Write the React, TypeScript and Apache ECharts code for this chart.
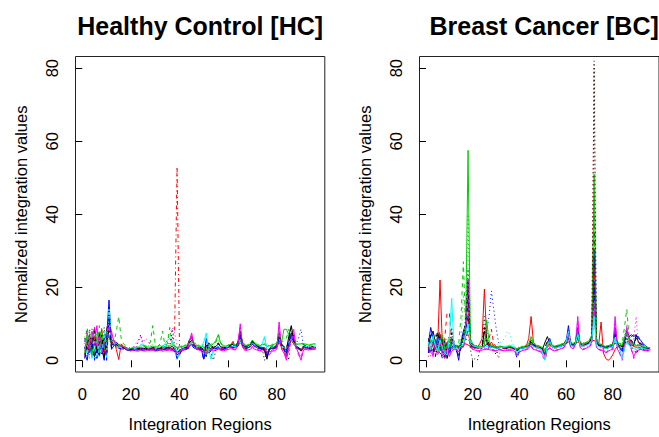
import React, { useEffect, useRef } from "react";
import * as echarts from "echarts";

const regions = Array.from({ length: 96 }, (_, i) => i + 1);
const xTicks = [0, 20, 40, 60, 80];
const yTicks = [0, 20, 40, 60, 80];
const panelTitles = ["Healthy Control [HC]", "Breast Cancer [BC]"];
const xLabel = "Integration Regions";
const yLabel = "Normalized integration values";

// ---------- Healthy Control ----------
const hc1 = [
  3.2, 5.5, 2.1, 6.8, 1.0, 4.2, 7.5, 2.8, 0.5, 8.2, 12.0, 5.0,
  4.6, 4.2, 3.8, 4.1, 3.6, 3.3, 3.0, 2.8, 3.1, 3.2, 3.0, 3.3,
  3.1, 3.4, 3.2, 3.0, 3.3, 3.5, 3.2, 3.1, 3.4, 3.6, 3.3, 3.5,
  3.8, 3.2, 1.5, 2.0, 3.0, 3.4, 3.6, 5.5, 6.5, 4.4, 3.6, 3.5,
  3.4, 2.5, 1.0, 4.8, 4.0, 3.6, 3.8, 4.5, 3.7, 3.5, 3.4, 3.9,
  4.2, 4.6, 3.8, 5.0, 8.0, 4.5, 3.6, 3.8, 4.2, 5.5, 4.4, 3.8,
  3.5, 3.6, 2.5, 0.3, 3.2, 3.8, 3.6, 4.0, 7.5, 4.2, 3.5, 2.8,
  6.5, 9.5, 6.0, 4.0, 3.2, 2.5, 3.8, 3.9, 3.6, 3.5, 3.7, 3.6,
];
const hc2 = [
  1.5, 4.0, 7.0, 3.0, 6.5, 2.0, 5.0, 8.5, 3.5, 2.0, 13.0, 4.5,
  5.5, 3.0, 0.2, 4.5, 3.8, 3.5, 3.2, 3.0, 2.8, 3.0, 3.2, 3.1,
  3.0, 2.9, 3.1, 3.3, 3.0, 2.8, 3.0, 3.2, 3.1, 3.0, 3.3, 3.4,
  3.2, 3.6, 2.2, 3.0, 2.8, 3.1, 3.3, 4.0, 4.5, 3.8, 3.3, 3.2,
  3.1, 3.0, 2.5, 3.4, 3.2, 3.0, 3.3, 3.5, 3.2, 3.0, 3.1, 3.6,
  4.0, 5.2, 3.6, 3.8, 5.5, 3.6, 3.2, 3.4, 3.6, 4.5, 3.8, 3.4,
  3.2, 3.0, 3.4, 2.2, 2.8, 3.3, 3.2, 3.4, 5.0, 3.6, 2.8, 1.0,
  4.0, 6.0, 4.5, 3.5, 3.0, 2.8, 3.5, 3.4, 3.2, 3.3, 3.5, 3.4,
];
const hc3 = [
  5.0, 9.0, 3.5, 6.0, 8.0, 2.5, 9.5, 4.0, 6.5, 3.0, 7.0, 4.0,
  5.0, 8.0, 12.0, 6.0, 4.5, 3.8, 3.4, 3.2, 3.3, 3.5, 3.4, 3.6,
  3.5, 4.0, 3.6, 5.0, 9.5, 4.5, 3.8, 4.5, 8.0, 4.2, 4.5, 9.0,
  4.5, 4.0, 3.2, 3.4, 3.6, 3.8, 4.0, 4.2, 5.0, 4.6, 4.0, 3.8,
  3.6, 3.5, 3.0, 4.0, 4.5, 4.2, 5.0, 7.0, 4.8, 4.0, 3.8, 4.2,
  4.4, 4.0, 4.2, 4.6, 6.0, 4.8, 4.2, 4.0, 4.4, 5.0, 4.5, 4.2,
  4.0, 4.2, 4.5, 3.6, 3.8, 4.0, 4.2, 4.4, 6.0, 5.0, 5.5, 6.0,
  8.5, 7.0, 5.0, 4.5, 4.2, 4.6, 4.4, 4.2, 4.0, 4.1, 4.3, 4.2,
];
const hc4 = [
  2.0, 0.0, 4.5, 1.0, 3.0, 0.5, 2.5, 5.0, 0.0, 6.0, 16.5, 3.0,
  4.0, 5.0, 4.2, 3.6, 3.4, 3.0, 2.8, 2.6, 2.9, 3.0, 2.8, 3.0,
  2.9, 3.0, 2.8, 3.1, 3.0, 2.7, 2.9, 3.0, 2.8, 3.2, 3.0, 3.1,
  3.0, 2.6, 0.8, 1.5, 2.8, 3.0, 3.2, 3.6, 4.5, 3.5, 3.0, 3.1,
  3.0, 0.3, 6.0, 2.5, 3.0, 3.2, 3.4, 3.6, 3.0, 3.1, 3.3, 3.5,
  3.8, 3.6, 3.4, 4.2, 7.0, 4.0, 3.3, 3.5, 3.8, 4.8, 4.0, 3.6,
  3.4, 3.2, 3.0, 1.5, 3.0, 3.4, 3.5, 3.8, 6.5, 4.5, 3.2, 2.0,
  5.0, 7.5, 5.5, 3.8, 3.4, 3.0, 3.5, 3.6, 3.4, 3.3, 3.4, 3.3,
];
const hc5 = [
  4.0, 2.0, 5.5, 0.5, 4.5, 6.5, 1.0, 3.5, 7.0, 0.5, 14.0, 5.5,
  4.8, 4.0, 3.8, 3.5, 3.6, 3.2, 3.0, 3.1, 3.2, 3.3, 3.5, 4.2,
  4.5, 3.8, 3.5, 3.4, 3.6, 3.3, 3.4, 3.5, 3.8, 4.5, 5.5, 6.0,
  5.5, 3.5, 0.2, 2.0, 3.2, 3.4, 3.5, 3.8, 4.2, 3.6, 3.4, 3.5,
  3.8, 5.0, 7.5, 3.0, 0.3, 3.2, 3.6, 3.8, 3.4, 3.5, 3.6, 3.8,
  4.0, 3.8, 3.6, 4.0, 5.0, 3.8, 3.6, 3.7, 4.0, 4.5, 4.0, 3.6,
  3.8, 4.5, 6.5, 3.0, 3.2, 3.6, 3.8, 4.0, 5.5, 4.0, 3.4, 3.2,
  4.5, 5.5, 4.5, 3.8, 3.5, 3.2, 3.6, 3.8, 3.6, 3.5, 3.8, 3.6,
];
const hc6 = [
  3.0, 6.0, 2.0, 8.0, 4.0, 9.5, 3.0, 6.0, 2.5, 4.0, 10.0, 8.0,
  5.0, 4.5, 4.0, 3.8, 3.4, 3.0, 2.7, 2.6, 2.8, 2.6, 2.5, 2.7,
  2.6, 2.5, 2.8, 2.6, 2.7, 2.5, 2.6, 2.8, 2.5, 2.6, 2.7, 2.8,
  2.6, 2.5, 2.0, 2.4, 2.6, 2.8, 3.0, 5.0, 7.5, 4.0, 3.0, 2.8,
  2.6, 2.0, 1.5, 2.5, 2.8, 2.6, 2.8, 3.0, 2.7, 2.6, 2.8, 3.0,
  3.2, 3.0, 2.8, 4.0, 10.0, 3.5, 2.6, 2.8, 3.0, 3.5, 3.0, 2.8,
  2.6, 2.5, 2.8, 2.0, 1.5, 2.5, 2.6, 3.0, 10.5, 3.0, 2.0, 0.0,
  3.5, 6.0, 8.5, 3.5, 2.0, 0.0, 2.8, 3.0, 2.8, 2.9, 3.0, 3.0,
];
const hc7 = [
  6.0, 3.0, 8.5, 2.0, 5.5, 1.0, 7.0, 4.5, 9.0, 2.0, 11.0, 6.0,
  4.2, 3.8, 4.5, 3.6, 3.2, 3.4, 3.0, 2.9, 3.2, 3.4, 5.0, 7.0,
  4.0, 3.5, 3.2, 3.4, 3.6, 3.2, 3.3, 3.5, 3.2, 3.4, 3.6, 3.8,
  8.5, 4.0, 3.0, 3.2, 3.4, 3.5, 3.6, 4.5, 6.0, 4.2, 3.6, 3.4,
  3.2, 3.0, 3.5, 3.8, 2.0, 0.0, 3.0, 3.6, 3.4, 3.3, 3.5, 3.8,
  4.0, 4.2, 3.8, 4.4, 6.5, 4.2, 3.6, 3.8, 4.0, 5.0, 4.2, 3.7,
  3.5, 3.4, 0.0, 2.5, 3.2, 3.6, 3.5, 3.8, 6.0, 4.2, 3.6, 3.0,
  0.0, 8.0, 6.5, 4.0, 3.5, 3.0, 3.6, 3.7, 3.5, 3.4, 3.6, 3.5,
];
const hc8 = [
  2.5, 5.0, 1.5, 4.0, 7.5, 3.0, 1.0, 6.0, 2.0, 5.5, 9.0, 4.0,
  4.5, 3.6, 3.4, 3.2, 3.0, 3.1, 2.9, 3.0, 3.1, 3.2, 3.0, 3.1,
  3.2, 3.0, 3.1, 3.3, 3.2, 3.1, 3.0, 3.2, 3.4, 3.5, 4.0, 5.0,
  6.0, 8.0, 53.0, 4.0, 3.2, 3.3, 3.5, 3.8, 4.5, 3.6, 3.4, 3.3,
  3.2, 3.1, 3.0, 3.3, 3.4, 3.2, 3.4, 3.6, 3.3, 3.2, 3.4, 3.6,
  3.8, 4.0, 3.6, 3.8, 5.0, 3.8, 3.4, 3.5, 3.8, 4.2, 3.8, 3.5,
  3.3, 3.2, 3.5, 3.0, 3.2, 3.4, 3.3, 3.6, 5.0, 3.8, 3.2, 2.8,
  4.5, 5.5, 4.5, 3.6, 3.3, 3.0, 3.4, 3.5, 3.3, 3.2, 3.4, 3.3,
];
const hc9 = [
  4.5, 7.0, 3.0, 9.0, 2.5, 5.0, 8.0, 3.5, 6.0, 1.5, 8.5, 7.0,
  5.5, 4.2, 3.8, 3.5, 3.2, 3.0, 2.8, 3.0, 3.5, 4.5, 5.5, 6.5,
  5.0, 6.0, 5.5, 4.0, 3.5, 3.2, 3.4, 3.6, 3.8, 4.0, 5.5, 7.0,
  9.0, 7.5, 4.0, 3.5, 3.4, 3.6, 3.8, 5.0, 7.0, 4.2, 3.5, 3.4,
  3.3, 3.2, 2.0, 3.4, 3.3, 3.2, 3.4, 3.6, 3.3, 3.2, 3.3, 3.5,
  3.6, 4.0, 3.4, 5.0, 9.0, 4.0, 3.2, 3.4, 3.6, 4.2, 3.6, 3.3,
  3.0, 2.8, 3.2, 2.5, 2.0, 3.0, 3.2, 3.5, 8.0, 3.5, 2.5, 1.0,
  3.0, 5.0, 7.5, 3.0, 2.0, 1.0, 3.0, 3.2, 3.0, 3.1, 3.2, 3.1,
];
const hc10 = [
  3.5, 1.0, 6.0, 2.5, 0.5, 4.0, 6.0, 1.5, 5.0, 3.0, 15.0, 5.0,
  4.4, 3.8, 3.6, 3.4, 3.3, 3.2, 3.0, 3.1, 3.0, 3.2, 3.1, 3.3,
  3.2, 3.1, 3.3, 3.2, 3.1, 3.0, 3.2, 3.3, 3.1, 3.4, 3.2, 3.3,
  3.5, 3.2, 1.0, 2.8, 3.2, 3.4, 3.5, 4.0, 5.0, 3.8, 3.4, 3.3,
  3.2, 1.5, 5.0, 3.5, 3.2, 3.3, 3.5, 3.6, 3.4, 3.3, 3.4, 3.7,
  3.9, 3.8, 3.6, 4.2, 6.0, 4.0, 3.5, 3.6, 3.8, 4.5, 3.9, 3.6,
  3.4, 3.3, 3.6, 2.8, 3.0, 3.5, 3.4, 3.8, 5.5, 4.0, 3.4, 3.0,
  5.0, 6.5, 5.0, 4.5, 6.0, 8.5, 4.0, 3.6, 3.5, 3.4, 3.6, 3.5,
];
const hc11 = [
  2.0, 7.5, 4.5, 1.5, 9.0, 5.0, 2.0, 7.0, 4.5, 8.0, 6.0, 5.5,
  4.8, 4.5, 4.2, 3.9, 3.6, 3.4, 3.2, 3.3, 3.5, 3.4, 3.6, 3.5,
  3.6, 3.8, 3.5, 3.7, 3.9, 3.6, 3.8, 4.0, 3.7, 3.8, 3.9, 4.0,
  4.2, 4.0, 3.5, 3.6, 3.8, 4.0, 4.2, 4.5, 5.5, 4.8, 4.2, 4.0,
  3.8, 3.6, 1.5, 3.5, 4.0, 4.5, 5.5, 7.0, 4.5, 4.0, 3.8, 4.0,
  4.2, 4.4, 4.2, 4.5, 5.5, 4.5, 4.0, 4.2, 4.4, 5.5, 4.8, 4.3,
  4.0, 4.2, 4.4, 3.8, 4.0, 4.2, 4.4, 4.6, 7.0, 5.0, 8.5, 8.5,
  7.0, 6.0, 5.0, 4.5, 4.4, 4.5, 4.6, 4.4, 4.2, 4.3, 4.5, 4.4,
];
const hc12 = [
  5.5, 3.5, 0.5, 7.0, 3.5, 1.0, 5.5, 2.5, 8.0, 4.0, 10.0, 6.5,
  4.6, 4.0, 3.7, 3.5, 3.3, 3.1, 3.0, 2.9, 3.1, 3.3, 3.8, 4.5,
  4.0, 3.6, 3.4, 3.5, 3.3, 3.4, 3.6, 3.5, 3.7, 3.6, 3.8, 4.0,
  4.2, 3.6, 2.5, 2.8, 3.4, 3.6, 3.7, 4.0, 5.0, 4.0, 3.6, 3.5,
  3.6, 4.5, 6.5, 2.0, 0.5, 3.0, 3.5, 3.7, 3.4, 3.5, 3.6, 3.8,
  4.0, 3.9, 3.7, 4.2, 6.0, 4.0, 3.7, 3.8, 4.0, 4.6, 4.1, 3.7,
  3.6, 4.2, 6.0, 3.2, 3.4, 3.6, 3.7, 4.0, 6.0, 4.2, 3.5, 3.2,
  4.8, 6.0, 5.0, 4.0, 3.6, 3.4, 3.7, 3.8, 3.6, 3.5, 3.7, 3.6,
];
const hc13 = [
  0.5, 4.5, 6.0, 3.0, 9.0, 2.0, 4.5, 7.0, 1.0, 5.0, 8.0, 3.5,
  4.0, 4.4, 3.6, 3.9, 3.4, 3.1, 2.9, 3.0, 3.3, 3.0, 3.2, 3.4,
  3.0, 3.3, 3.0, 3.2, 3.5, 3.3, 3.1, 3.3, 3.6, 3.2, 3.5, 3.3,
  3.6, 3.0, 2.0, 2.6, 3.2, 3.5, 3.4, 4.8, 5.5, 4.0, 3.5, 3.6,
  3.5, 2.8, 4.0, 4.2, 3.6, 3.4, 3.9, 4.8, 3.5, 3.6, 3.5, 4.0,
  4.1, 4.4, 4.0, 4.6, 7.0, 4.2, 3.8, 3.9, 4.3, 5.2, 4.3, 3.9,
  3.6, 3.8, 3.0, 1.0, 3.0, 3.9, 3.7, 4.1, 7.0, 4.4, 3.8, 3.2,
  6.0, 9.0, 5.5, 4.2, 3.4, 2.8, 3.9, 4.0, 3.7, 3.6, 3.8, 3.7,
];
const hc14 = [
  6.5, 3.0, 8.0, 5.0, 2.0, 7.5, 4.0, 9.0, 3.0, 6.0, 5.0, 6.0,
  5.2, 4.8, 4.4, 4.0, 3.8, 3.6, 3.4, 3.5, 3.7, 3.8, 3.6, 3.9,
  3.8, 4.2, 3.9, 4.0, 4.4, 3.9, 4.0, 4.3, 4.1, 4.0, 4.2, 4.4,
  4.6, 4.2, 3.6, 3.8, 4.0, 4.2, 4.4, 4.6, 5.2, 4.9, 4.4, 4.2,
  4.0, 3.8, 3.2, 3.8, 4.2, 4.6, 5.0, 5.5, 4.6, 4.2, 4.0, 4.3,
  4.5, 4.6, 4.4, 4.8, 5.8, 4.9, 4.4, 4.3, 4.6, 5.2, 4.7, 4.4,
  4.2, 4.4, 4.7, 4.0, 4.1, 4.4, 4.5, 4.7, 6.5, 5.2, 6.0, 6.5,
  7.5, 6.5, 5.2, 4.7, 4.6, 4.8, 4.6, 4.5, 4.3, 4.4, 4.6, 4.5,
];
const hc15 = [
  1.0, 3.5, 2.0, 5.5, 0.0, 3.0, 1.5, 4.0, 6.0, 0.0, 12.0, 4.5,
  4.2, 3.6, 3.3, 3.1, 3.0, 2.9, 2.7, 2.7, 2.8, 2.9, 2.7, 2.9,
  2.8, 2.9, 2.7, 3.0, 2.9, 2.6, 2.8, 2.9, 2.7, 3.0, 2.9, 3.0,
  2.9, 2.4, 0.5, 1.8, 2.7, 2.9, 3.1, 3.4, 4.2, 3.3, 2.9, 3.0,
  2.9, 0.0, 4.5, 2.0, 2.6, 3.0, 3.2, 3.4, 2.9, 3.0, 3.2, 3.4,
  3.6, 3.5, 3.3, 4.0, 6.5, 3.8, 3.2, 3.4, 3.6, 4.4, 3.8, 3.4,
  3.2, 3.0, 2.8, 1.0, 2.6, 3.2, 3.3, 3.6, 6.0, 4.2, 3.0, 1.5,
  4.5, 7.0, 5.0, 3.6, 3.2, 2.6, 3.3, 3.4, 3.2, 3.1, 3.2, 3.1,
];
const hc16 = [
  5.0, 8.0, 3.5, 6.0, 9.0, 4.0, 7.0, 2.0, 5.0, 7.5, 9.0, 7.0,
  5.5, 4.8, 4.2, 3.9, 3.5, 3.2, 2.9, 2.8, 3.0, 2.9, 2.8, 3.0,
  2.9, 2.8, 3.0, 2.9, 3.0, 2.8, 2.9, 3.0, 2.8, 2.9, 3.0, 3.1,
  2.9, 2.8, 2.4, 2.7, 2.9, 3.0, 3.2, 4.5, 6.5, 3.8, 3.1, 3.0,
  2.9, 2.4, 2.0, 2.8, 3.0, 2.9, 3.0, 3.2, 2.9, 2.8, 3.0, 3.2,
  3.4, 3.2, 3.0, 4.2, 9.0, 3.6, 2.9, 3.0, 3.2, 3.8, 3.2, 3.0,
  2.8, 2.7, 3.0, 2.4, 2.0, 2.8, 2.9, 3.2, 9.0, 3.2, 2.2, 0.5,
  3.2, 5.5, 7.0, 3.2, 1.5, 0.5, 3.0, 3.2, 3.0, 3.1, 3.2, 3.2,
];
const hcValues = [hc1, hc2, hc3, hc4, hc5, hc6, hc7, hc8, hc9, hc10, hc11, hc12, hc13, hc14, hc15, hc16];
const hcColors = ["#000000", "#FF0000", "#00CD00", "#0000FF", "#00FFFF", "#FF00FF",
  "#000000", "#FF0000", "#FF00FF", "#0000FF", "#00CD00", "#00FFFF",
  "#000000", "#00CD00", "#0000FF", "#FF00FF"];
const hcDash = ["solid", "solid", "dashed", "solid", "solid", "solid",
  "dotted", "dotdash", "dotted", "dotted", "solid", "dashed",
  "dashed", "dotted", "dashed", "dashed"];

// ---------- Breast Cancer ----------
const bc1 = [
  4.0, 6.5, 8.0, 5.0, 3.0, 7.0, 2.0, 5.5, 0.5, 3.0, 6.0, 4.5,
  3.8, 3.5, 4.0, 7.0, 9.0, 12.0, 5.0, 4.0, 3.8, 3.5, 3.6, 3.4,
  8.0, 5.0, 4.0, 3.8, 3.6, 3.5, 3.4, 3.6, 3.5, 3.3, 3.4, 3.6,
  3.5, 3.3, 3.0, 3.2, 3.4, 3.5, 3.6, 3.8, 5.0, 4.2, 3.8, 3.6,
  3.4, 3.2, 5.0, 6.5, 4.5, 3.8, 3.6, 3.8, 4.0, 4.2, 4.5, 5.5,
  7.5, 4.8, 4.2, 4.5, 6.0, 4.5, 4.0, 4.2, 4.4, 4.8, 5.5, 20.0,
  5.0, 4.2, 4.0, 3.8, 3.6, 3.8, 4.0, 4.2, 6.0, 4.5, 4.0, 3.8,
  5.5, 8.0, 6.0, 5.0, 4.0, 7.0, 5.0, 4.0, 3.5, 3.2, 3.0, 3.0,
];
const bc2 = [
  2.0, 3.5, 5.0, 3.0, 4.5, 22.0, 4.0, 3.0, 5.0, 2.5, 3.5, 4.0,
  3.6, 3.2, 3.5, 4.0, 4.5, 4.2, 3.8, 3.5, 3.4, 3.6, 4.5, 6.0,
  19.5, 6.0, 4.0, 5.0, 3.8, 3.5, 3.6, 3.8, 3.5, 3.4, 3.6, 3.5,
  3.4, 3.2, 3.0, 3.4, 3.6, 3.8, 4.0, 6.0, 12.0, 5.0, 4.0, 3.8,
  3.6, 3.0, 2.5, 3.8, 4.0, 3.8, 3.6, 3.8, 4.0, 4.2, 4.4, 4.6,
  5.0, 4.6, 4.4, 4.6, 5.0, 4.8, 4.4, 4.6, 4.8, 5.0, 5.2, 5.5,
  4.8, 4.5, 10.5, 2.0, 0.5, 0.0, 0.5, 1.5, 3.0, 3.8, 4.0, 4.2,
  4.5, 5.0, 4.6, 4.2, 3.8, 3.6, 3.5, 3.4, 3.2, 3.0, 3.0, 3.0,
];
const bc3 = [
  5.0, 3.0, 6.0, 4.5, 2.0, 5.0, 7.0, 3.0, 4.0, 5.5, 3.0, 4.0,
  3.8, 4.0, 4.5, 6.0, 10.0, 57.5, 6.0, 4.5, 4.0, 3.8, 3.6, 3.5,
  4.0, 11.0, 5.0, 4.0, 3.8, 3.6, 3.7, 3.8, 3.6, 3.5, 3.7, 3.8,
  3.6, 3.4, 3.2, 3.5, 3.7, 3.8, 4.0, 4.5, 6.5, 4.8, 4.2, 4.0,
  3.8, 3.5, 2.5, 4.5, 5.5, 4.2, 3.8, 4.0, 4.2, 4.4, 4.6, 5.0,
  6.0, 5.0, 4.6, 5.0, 7.5, 5.0, 4.6, 4.8, 5.0, 5.5, 7.0, 51.0,
  6.0, 4.5, 4.2, 4.0, 3.8, 4.0, 4.2, 4.4, 5.5, 4.8, 4.5, 4.0,
  6.0, 7.5, 5.5, 4.8, 4.5, 4.0, 4.2, 4.0, 3.8, 3.6, 3.5, 3.5,
];
const bc4 = [
  3.0, 5.5, 4.0, 7.0, 3.5, 2.0, 6.0, 4.0, 3.0, 6.5, 4.5, 3.5,
  4.0, 4.5, 12.0, 27.0, 8.0, 6.0, 4.5, 4.2, 4.0, 3.8, 3.6, 3.8,
  4.0, 6.0, 4.5, 3.8, 3.6, 3.5, 3.6, 3.7, 3.5, 3.4, 3.6, 3.7,
  3.5, 3.3, 3.1, 3.4, 3.6, 3.8, 3.9, 4.2, 5.5, 4.5, 4.0, 3.8,
  3.6, 3.4, 3.0, 4.0, 5.0, 4.0, 3.8, 3.9, 4.0, 4.2, 4.4, 5.0,
  6.5, 4.8, 4.4, 4.8, 6.5, 4.8, 4.4, 4.6, 4.8, 5.2, 6.5, 35.0,
  5.0, 4.4, 4.2, 4.0, 3.8, 4.0, 4.2, 4.4, 6.0, 5.0, 4.5, 4.5,
  9.0, 14.0, 6.0, 4.5, 4.2, 4.0, 4.0, 3.8, 3.6, 3.5, 3.4, 3.4,
];
const bc5 = [
  3.5, 2.0, 6.0, 1.0, 4.0, 3.0, 5.0, 0.5, 2.0, 4.5, 9.0, 3.0,
  2.5, 1.0, 4.0, 6.0, 12.0, 25.0, 3.0, 0.0, 0.5, 0.0, 2.5, 3.5,
  12.0, 5.0, 3.0, 3.5, 3.0, 1.5, 3.0, 3.2, 3.4, 3.0, 3.2, 3.4,
  3.2, 3.0, 2.0, 3.0, 3.2, 3.4, 3.5, 4.0, 5.0, 3.8, 3.5, 3.3,
  3.2, 2.0, 0.5, 4.0, 4.5, 3.5, 3.2, 3.4, 3.6, 3.8, 4.0, 4.5,
  6.0, 4.2, 3.8, 4.2, 6.5, 4.2, 3.8, 4.0, 4.2, 4.8, 6.0, 82.0,
  4.5, 3.8, 3.6, 3.4, 3.2, 3.4, 3.6, 3.8, 5.0, 4.0, 3.6, 3.0,
  4.5, 6.0, 4.5, 3.5, 3.0, 2.0, 3.0, 3.2, 3.0, 2.8, 2.6, 2.6,
];
const bc6 = [
  4.5, 9.0, 6.0, 3.0, 7.0, 5.0, 2.0, 4.0, 3.5, 2.0, 5.0, 4.0,
  3.0, 0.0, 5.0, 8.0, 10.0, 22.0, 5.0, 4.0, 3.5, 3.6, 3.4, 3.5,
  3.8, 4.5, 3.8, 3.6, 3.5, 3.4, 3.5, 3.6, 3.4, 3.3, 3.5, 3.6,
  3.4, 3.2, 2.5, 3.2, 3.4, 3.5, 3.6, 3.8, 4.5, 4.0, 3.6, 3.5,
  3.3, 3.0, 1.5, 5.0, 6.0, 3.8, 3.5, 3.6, 3.8, 4.0, 4.2, 5.0,
  9.5, 4.5, 4.0, 5.0, 9.0, 4.5, 4.0, 4.2, 4.4, 5.0, 6.5, 30.0,
  6.0, 4.0, 3.8, 3.6, 3.4, 3.6, 3.8, 4.0, 9.0, 4.2, 3.6, 2.5,
  6.0, 8.0, 6.5, 7.0, 6.5, 7.0, 6.0, 5.5, 4.5, 4.0, 3.5, 3.0,
];
const bc7 = [
  5.0, 3.0, 6.5, 4.0, 2.5, 5.5, 3.5, 2.0, 1.5, 6.0, 17.0, 3.0,
  3.5, 3.0, 4.0, 4.5, 7.0, 10.0, 4.5, 4.0, 3.8, 3.6, 3.5, 3.4,
  3.6, 3.8, 3.6, 3.5, 3.4, 3.3, 3.4, 3.5, 3.6, 3.8, 4.0, 4.2,
  3.8, 3.5, 2.0, 3.0, 3.3, 3.4, 3.5, 3.7, 4.2, 3.8, 3.5, 3.4,
  3.2, 2.0, 0.0, 4.5, 5.0, 3.6, 3.4, 3.5, 3.7, 3.9, 4.2, 5.0,
  8.0, 4.2, 3.8, 4.5, 7.0, 4.2, 3.8, 4.0, 4.2, 4.6, 5.5, 12.0,
  4.0, 3.8, 3.6, 3.4, 3.2, 3.4, 3.6, 3.8, 6.0, 4.0, 3.0, 0.5,
  3.0, 5.0, 4.0, 3.5, 3.2, 3.0, 3.2, 3.3, 3.2, 3.1, 3.0, 3.0,
];
const bc8 = [
  2.5, 4.0, 1.0, 5.0, 3.0, 6.0, 1.5, 0.5, 3.0, 1.0, 2.5, 3.0,
  2.8, 2.5, 3.0, 4.0, 8.0, 22.0, 4.0, 3.0, 2.8, 2.6, 2.7, 2.8,
  3.0, 3.2, 2.9, 2.8, 2.7, 2.6, 2.8, 2.9, 2.7, 2.6, 2.8, 2.9,
  2.7, 2.5, 1.5, 2.4, 2.6, 2.8, 3.0, 3.4, 4.0, 3.0, 2.8, 2.6,
  2.5, 1.5, 0.5, 3.0, 3.5, 2.8, 2.6, 2.8, 3.0, 3.2, 3.5, 4.5,
  6.0, 3.5, 3.2, 4.5, 12.0, 3.5, 3.0, 3.2, 3.4, 3.8, 5.0, 15.0,
  3.5, 3.0, 2.8, 2.5, 2.2, 2.5, 2.8, 3.0, 12.0, 3.0, 2.0, 0.5,
  4.0, 9.0, 6.0, 3.0, 1.0, 2.5, 2.8, 3.0, 2.8, 2.7, 2.6, 2.6,
];
const bc9 = [
  3.0, 5.0, 2.5, 6.0, 4.0, 1.5, 3.5, 5.0, 2.0, 4.0, 6.5, 4.0,
  3.5, 3.2, 3.6, 4.0, 5.0, 9.0, 4.0, 3.6, 3.4, 3.5, 3.6, 3.8,
  5.0, 8.0, 12.0, 19.0, 14.0, 9.0, 5.0, 3.8, 3.6, 3.5, 3.6, 3.7,
  3.5, 3.4, 3.0, 3.3, 3.5, 3.6, 3.7, 4.0, 4.8, 4.0, 3.7, 3.5,
  3.4, 3.0, 2.0, 4.2, 5.0, 3.8, 3.6, 3.7, 3.9, 4.1, 4.3, 5.0,
  7.0, 4.5, 4.0, 4.5, 7.5, 4.4, 4.0, 4.2, 4.4, 4.8, 6.0, 20.0,
  4.5, 4.0, 3.8, 3.6, 3.4, 3.6, 3.8, 4.0, 5.5, 4.2, 3.8, 3.5,
  5.0, 7.0, 6.0, 5.5, 5.0, 4.5, 4.0, 3.8, 3.6, 3.4, 3.2, 3.2,
];
const bc10 = [
  3.5, 2.5, 4.5, 3.0, 5.0, 8.0, 4.0, 6.0, 13.0, 13.0, 5.0, 3.5,
  3.4, 3.0, 3.6, 4.5, 6.0, 8.0, 4.2, 3.8, 3.6, 3.5, 3.6, 4.0,
  6.0, 5.0, 6.0, 8.5, 4.5, 3.8, 3.6, 3.7, 3.5, 3.4, 3.5, 3.6,
  3.4, 3.3, 3.0, 3.2, 3.4, 3.6, 3.7, 4.0, 5.0, 4.2, 3.8, 3.6,
  3.5, 3.0, 1.5, 4.0, 4.5, 3.7, 3.5, 3.6, 3.8, 4.0, 4.2, 4.8,
  6.5, 4.5, 4.0, 4.6, 7.0, 4.4, 4.0, 4.2, 4.4, 4.8, 6.0, 25.0,
  4.8, 4.2, 4.5, 3.5, 3.2, 3.4, 3.6, 3.8, 5.0, 4.0, 3.6, 3.2,
  4.5, 6.0, 5.0, 4.2, 3.8, 3.5, 3.4, 3.3, 3.2, 3.1, 3.0, 3.0,
];
const bc11 = [
  4.0, 6.0, 3.0, 5.0, 6.5, 3.5, 2.5, 4.5, 6.0, 3.0, 8.0, 4.5,
  3.6, 3.4, 3.8, 4.2, 6.0, 15.0, 4.5, 3.8, 3.6, 3.5, 3.4, 3.6,
  3.8, 4.0, 3.8, 3.7, 3.6, 3.8, 4.5, 5.0, 5.5, 6.5, 8.0, 7.0,
  4.5, 3.6, 3.2, 3.4, 3.6, 3.7, 3.8, 4.0, 4.6, 4.0, 3.7, 3.6,
  3.4, 3.2, 2.5, 4.0, 4.8, 3.8, 3.6, 3.7, 3.9, 4.1, 4.4, 5.0,
  7.0, 4.4, 4.0, 4.6, 7.0, 4.4, 4.0, 4.2, 4.4, 4.8, 5.8, 18.0,
  4.5, 4.0, 3.8, 3.6, 3.4, 3.6, 3.8, 4.0, 5.5, 4.2, 3.6, 2.5,
  4.5, 6.0, 5.0, 4.0, 3.6, 3.4, 3.5, 3.6, 3.4, 3.3, 3.2, 3.2,
];
const bc12 = [
  1.0, 3.0, 5.5, 2.0, 4.0, 6.0, 3.0, 1.5, 4.5, 7.0, 3.5, 3.0,
  3.2, 3.0, 3.4, 4.0, 5.5, 14.0, 4.0, 3.5, 3.3, 3.2, 3.4, 3.6,
  5.0, 4.5, 4.0, 5.0, 3.8, 3.5, 0.5, 3.0, 3.3, 3.2, 3.4, 3.5,
  3.3, 3.2, 2.8, 3.1, 3.3, 3.5, 3.6, 3.8, 4.5, 3.8, 3.5, 3.4,
  3.3, 2.8, 1.5, 3.8, 4.2, 3.6, 3.4, 3.5, 3.7, 3.9, 4.0, 4.5,
  6.0, 4.2, 3.8, 4.4, 6.0, 4.2, 3.8, 4.0, 4.2, 4.6, 5.5, 80.0,
  4.5, 3.8, 3.6, 3.4, 3.2, 3.4, 3.5, 3.7, 4.8, 3.8, 3.4, 3.0,
  4.2, 5.5, 4.5, 3.6, 3.2, 3.0, 3.2, 3.3, 3.1, 3.0, 2.9, 2.9,
];
const bc13 = [
  3.5, 1.0, 4.0, 2.5, 5.0, 3.0, 1.0, 3.5, 2.0, 4.0, 5.0, 3.5,
  3.0, 2.8, 3.2, 3.8, 6.0, 18.0, 3.5, 3.0, 2.9, 2.8, 2.9, 3.0,
  3.2, 3.4, 3.1, 3.0, 2.9, 2.8, 2.9, 3.0, 2.9, 2.8, 2.9, 3.0,
  2.9, 2.7, 2.2, 2.6, 2.8, 3.0, 3.1, 3.4, 4.0, 3.2, 3.0, 2.9,
  2.8, 2.2, 1.0, 3.2, 3.6, 3.0, 2.8, 3.0, 3.2, 3.4, 3.6, 4.2,
  8.0, 3.8, 3.4, 4.0, 9.5, 3.6, 3.2, 3.4, 3.6, 4.0, 5.0, 16.0,
  3.8, 3.2, 3.0, 2.8, 2.6, 2.8, 3.0, 3.2, 7.0, 3.2, 2.8, 2.5,
  5.0, 10.0, 7.0, 4.0, 6.0, 12.0, 3.5, 3.0, 2.9, 2.8, 2.7, 2.7,
];
const bc14 = [
  6.0, 4.0, 2.0, 5.5, 8.0, 3.0, 6.5, 1.0, 3.5, 5.0, 7.5, 5.0,
  4.0, 3.8, 4.5, 6.5, 9.0, 20.0, 4.5, 3.6, 3.4, 3.3, 3.5, 3.7,
  9.0, 6.0, 4.5, 4.0, 3.7, 3.6, 3.5, 3.7, 3.6, 3.4, 3.5, 3.7,
  3.6, 3.4, 2.6, 3.1, 3.3, 3.6, 3.7, 4.0, 5.5, 4.4, 3.9, 3.7,
  3.5, 3.0, 3.5, 5.5, 5.0, 3.9, 3.7, 3.9, 4.1, 4.3, 4.6, 5.2,
  7.0, 4.7, 4.1, 4.4, 6.5, 4.4, 4.1, 4.3, 4.5, 4.9, 5.8, 40.0,
  5.2, 4.3, 4.1, 3.9, 3.7, 3.9, 4.1, 4.3, 7.0, 4.6, 4.1, 3.6,
  5.0, 7.5, 6.5, 5.5, 4.5, 6.0, 5.5, 4.5, 3.8, 3.4, 3.2, 3.1,
];
const bc15 = [
  3.5, 4.5, 7.0, 2.5, 5.5, 4.0, 3.0, 6.0, 5.0, 3.5, 5.5, 4.5,
  4.2, 4.0, 6.0, 18.0, 12.0, 40.0, 5.5, 4.6, 4.2, 4.0, 3.9, 4.0,
  4.5, 8.0, 5.5, 4.2, 4.0, 3.9, 3.9, 4.0, 3.8, 3.7, 3.9, 4.0,
  3.8, 3.6, 3.4, 3.7, 3.9, 4.0, 4.2, 4.6, 6.0, 4.9, 4.4, 4.1,
  3.9, 3.6, 2.8, 4.3, 5.2, 4.3, 4.0, 4.1, 4.3, 4.5, 4.7, 5.2,
  6.5, 5.1, 4.7, 5.1, 7.0, 5.1, 4.7, 4.9, 5.1, 5.6, 6.8, 45.0,
  5.8, 4.6, 4.3, 4.1, 3.9, 4.1, 4.3, 4.5, 6.0, 5.0, 4.7, 4.3,
  7.0, 9.0, 5.8, 4.9, 4.6, 4.2, 4.3, 4.1, 3.9, 3.7, 3.6, 3.6,
];
const bc16 = [
  2.0, 7.0, 4.0, 1.0, 5.5, 3.0, 0.5, 2.5, 4.5, 1.5, 4.0, 3.5,
  2.8, 1.5, 4.0, 6.0, 8.0, 16.0, 4.5, 3.8, 3.4, 3.4, 3.3, 3.4,
  3.6, 4.0, 3.6, 3.5, 3.4, 3.3, 3.4, 3.5, 3.3, 3.2, 3.4, 3.5,
  3.3, 3.0, 0.5, 2.8, 3.3, 3.4, 3.5, 3.7, 4.3, 3.8, 3.5, 3.4,
  3.2, 2.5, 1.0, 4.5, 5.5, 3.7, 3.4, 3.5, 3.7, 3.9, 4.1, 4.8,
  8.5, 4.3, 3.9, 4.8, 8.0, 4.3, 3.9, 4.1, 4.3, 4.8, 6.0, 22.0,
  5.5, 3.9, 3.7, 3.5, 3.3, 3.5, 3.7, 3.9, 8.0, 4.1, 3.4, 2.0,
  5.5, 7.0, 6.0, 6.5, 7.0, 6.5, 6.5, 5.0, 4.2, 3.8, 3.4, 3.0,
];
const bc17 = [
  4.0, 2.0, 5.5, 3.5, 1.0, 4.5, 2.5, 1.0, 4.0, 2.0, 3.5, 2.5,
  2.6, 2.4, 2.9, 3.6, 7.0, 20.0, 3.8, 2.9, 2.7, 2.5, 2.6, 2.7,
  2.9, 3.0, 2.8, 2.7, 2.6, 2.5, 2.7, 2.8, 2.6, 2.5, 2.7, 2.8,
  2.6, 2.4, 1.0, 2.3, 2.5, 2.7, 2.9, 3.2, 3.8, 2.9, 2.7, 2.5,
  2.4, 1.0, 0.0, 2.8, 3.3, 2.7, 2.5, 2.7, 2.9, 3.1, 3.4, 4.2,
  7.0, 3.4, 3.1, 4.2, 10.5, 3.4, 2.9, 3.1, 3.3, 3.6, 4.6, 13.0,
  3.4, 2.9, 2.7, 2.4, 2.0, 2.4, 2.7, 2.9, 10.0, 2.9, 1.8, 0.0,
  3.5, 8.0, 5.5, 2.8, 0.5, 2.0, 2.7, 2.9, 2.7, 2.6, 2.5, 2.5,
];
const bcValues = [bc1, bc2, bc4, bc6, bc8, bc9, bc10, bc11, bc13, bc14, bc16, bc17, bc15, bc3, bc12, bc5, bc7];
const bcColors = ["#000000", "#FF0000", "#00CD00", "#0000FF", "#FF00FF", "#0000FF",
  "#FF0000", "#00FFFF", "#FF00FF", "#000000", "#0000FF", "#FF00FF",
  "#00CD00", "#00CD00", "#FF0000", "#000000", "#00FFFF"];
const bcDash = ["solid", "solid", "dashed", "solid", "solid", "dotted",
  "dashed", "dotted", "dotted", "dashed", "dashed", "dashed",
  "dotted", "solid", "dotted", "dotted", "solid"];

const FONT = '"Liberation Sans", Arial, Helvetica, sans-serif';
const dashMap: Record<string, any> = {
  solid: "solid",
  dashed: [4, 4],
  dotted: [1, 3],
  dotdash: [1, 3, 4, 3],
  longdash: [7, 3],
};

const X_MIN = -2.8, X_MAX = 99.8, Y_MIN = -3.2, Y_MAX = 83.2;
const GRID_TOP = 56.5, GRID_H = 318.5, GRID_W = 249.3;
const GRID_LEFTS = [75.5, 419.5];

function buildSeries(list: number[][], colors: string[], dashes: string[], gi: number) {
  return list.map((vals, i) => ({
    type: "line",
    xAxisIndex: gi,
    yAxisIndex: gi,
    data: vals.map((v, j) => [regions[j], v]),
    symbol: "none",
    showSymbol: false,
    silent: true,
    lineStyle: { color: colors[i], width: 1, type: dashMap[dashes[i]] },
    z: 2,
  }));
}

function xAxis(gi: number) {
  return {
    type: "value",
    gridIndex: gi,
    min: X_MIN,
    max: X_MAX,
    axisLine: { show: false },
    axisTick: { show: true, length: 7, customValues: xTicks, lineStyle: { color: "#000", width: 1 } },
    axisLabel: { customValues: xTicks, margin: 13, fontSize: 16.5, color: "#000", fontFamily: FONT },
    splitLine: { show: false },
    name: xLabel,
    nameLocation: "middle",
    nameGap: 43,
    nameTextStyle: { fontSize: 16.5, color: "#000", fontFamily: FONT },
  };
}

function yAxis(gi: number) {
  return {
    type: "value",
    gridIndex: gi,
    min: Y_MIN,
    max: Y_MAX,
    axisLine: { show: false },
    axisTick: { show: true, length: 7, customValues: yTicks, lineStyle: { color: "#000", width: 1 } },
    axisLabel: { customValues: yTicks, rotate: 90, margin: 15, fontSize: 16.5, color: "#000", fontFamily: FONT },
    splitLine: { show: false },
    name: yLabel,
    nameLocation: "middle",
    nameGap: 46,
    nameRotate: 90,
    nameTextStyle: { fontSize: 16.5, color: "#000", fontFamily: FONT },
  };
}

export default function App() {
  const ref = useRef<HTMLDivElement>(null);
  useEffect(() => {
    if (!ref.current) return;
    const chart = echarts.init(ref.current, null, { renderer: "svg" });
    const option: any = {
      animation: false,
      backgroundColor: "#ffffff",
      grid: GRID_LEFTS.map((l) => ({
        left: l,
        top: GRID_TOP,
        width: GRID_W,
        height: GRID_H,
        show: true,
        borderColor: "#222",
        borderWidth: 1,
        backgroundColor: "transparent",
      })),
      xAxis: [xAxis(0), xAxis(1)],
      yAxis: [yAxis(0), yAxis(1)],
      graphic: GRID_LEFTS.map((l, i) => ({
        type: "text",
        x: l + GRID_W / 2,
        y: 25.5,
        style: {
          text: panelTitles[i],
          align: "center",
          verticalAlign: "middle",
          fontSize: 25,
          fontWeight: "bold",
          fontFamily: FONT,
          fill: "#000",
        },
      })),
      series: [
        ...buildSeries(hcValues, hcColors, hcDash, 0),
        ...buildSeries(bcValues, bcColors, bcDash, 1),
      ],
    };
    chart.setOption(option);
    return () => chart.dispose();
  }, []);
  return (
    <div
      ref={ref}
      style={{ position: "absolute", left: 0, top: 0, width: 659, height: 437 }}
    />
  );
}
